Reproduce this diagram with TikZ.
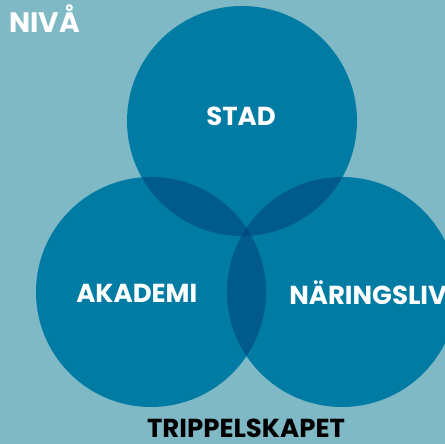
\documentclass[tikz,border=0pt]{standalone}
\usepackage{fontspec}
\setmainfont{Poppins}
\usetikzlibrary{positioning}

\definecolor{bgteal}{HTML}{80B9C6}
\definecolor{ringblue}{HTML}{007BA3}
\definecolor{lensblue}{HTML}{005A8B}
\definecolor{coreblue}{HTML}{004A7E}

\tikzset{
  ring/.style={fill=ringblue},
  lens/.style={fill=lensblue},
  core/.style={fill=coreblue},
  ringlabel/.style={text=white, font=\fontsize{18.5}{22}\selectfont\bfseries, inner sep=0pt},
  titlelabel/.style={text=black, font=\fontsize{18.5}{21}\selectfont\bfseries, inner sep=0pt}
}

\begin{document}
\begin{tikzpicture}[x=0.025cm,y=-0.025cm]
\useasboundingbox (0,0) rectangle (445,444);
\clip (0,0) rectangle (445,444);
\fill[bgteal] (0,0) rectangle (445,444);

\def\rad{115}
\coordinate (stad) at (242,121);
\coordinate (akademi) at (151,292);
\coordinate (naring) at (342,292);

%the three circles
\foreach \c in {stad,akademi,naring}
{
	\fill[ring] (\c) circle[radius=\rad];
}

%pairwise overlaps
\begin{scope}
	\clip (stad) circle[radius=\rad];
	\fill[lens] (akademi) circle[radius=\rad];
\end{scope}
\begin{scope}
	\clip (stad) circle[radius=\rad];
	\fill[lens] (naring) circle[radius=\rad];
\end{scope}
\begin{scope}
	\clip (akademi) circle[radius=\rad];
	\fill[lens] (naring) circle[radius=\rad];
\end{scope}

%middle of all three
\begin{scope}
	\clip (stad) circle[radius=\rad];
	\clip (akademi) circle[radius=\rad];
	\fill[core] (naring) circle[radius=\rad];
\end{scope}

%labels
\node[ringlabel, anchor=west, font=\fontsize{20}{24}\selectfont\bfseries] (nivalbl) at (9,19) {NIVÅ};
\node[ringlabel] (stadlbl) at (241,116) {STAD};
\node[ringlabel, anchor=west] (akademilbl) at (76,293) {AKADEMI};
\node[ringlabel, anchor=west] (naringlbl) at (289,293) {NÄRINGSLIV};
\node[titlelabel] (trippellbl) at (246,428) {TRIPPELSKAPET};
\end{tikzpicture}
\end{document}
